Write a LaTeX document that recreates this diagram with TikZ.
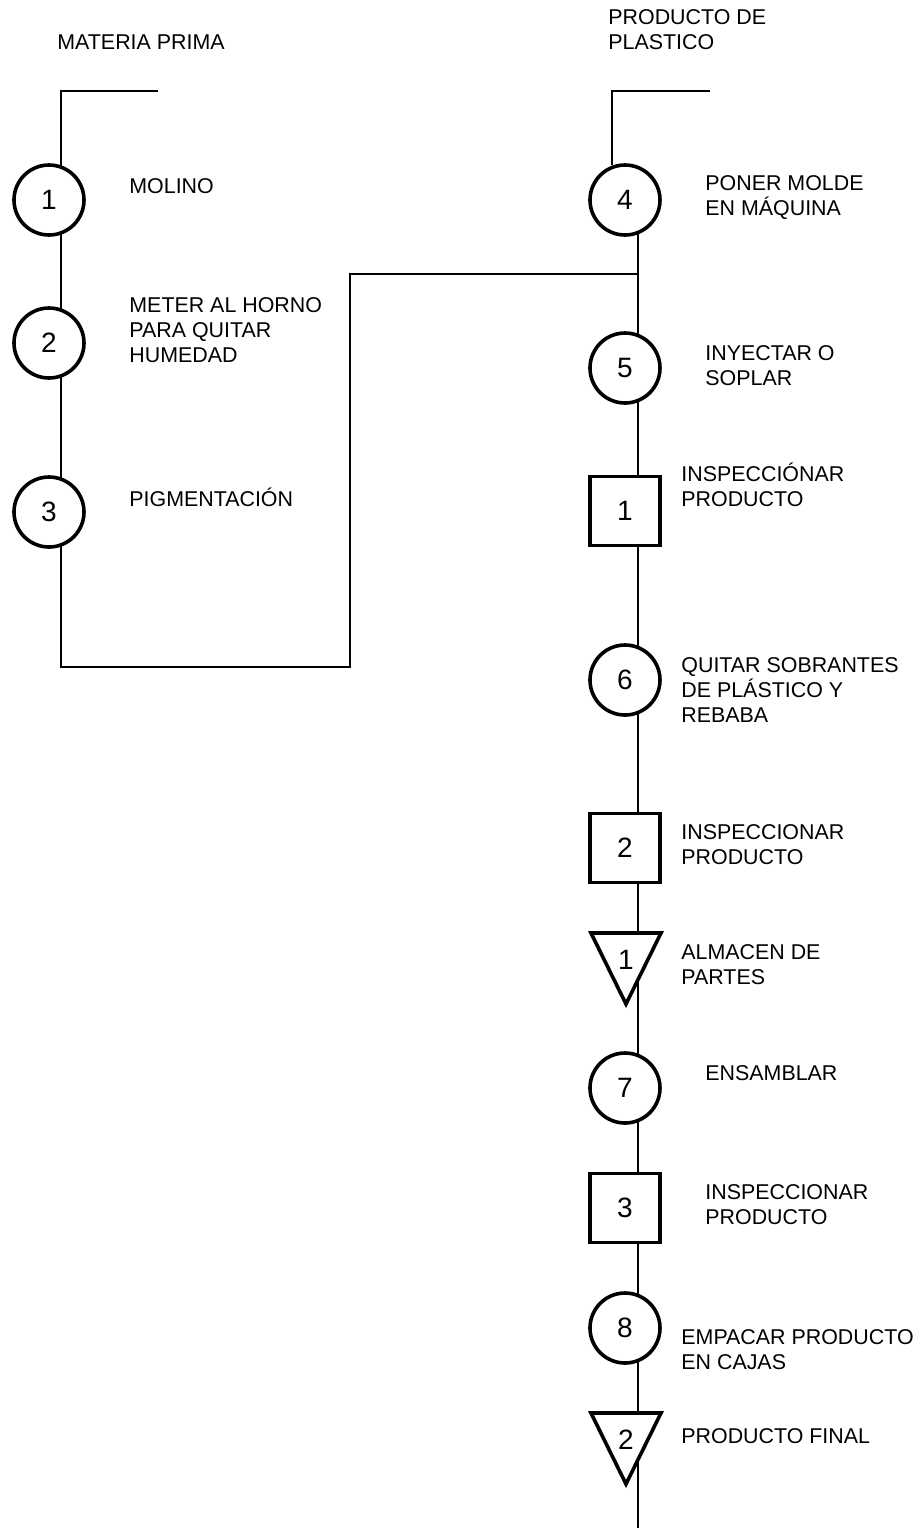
\documentclass[tikz,border=0pt]{standalone}
\usepackage{fontspec}
\setmainfont{Liberation Sans}
\pgfdeclarelayer{back}
\pgfsetlayers{back,main}
\begin{document}
\begin{tikzpicture}[x=0.5pt,y=-0.5pt,
        op/.style={circle,draw,line width=1.8pt,fill=white,minimum size=35pt,
            inner sep=0pt,font=\fontsize{14}{16}\selectfont},
        insp/.style={rectangle,draw,line width=1.8pt,fill=white,minimum width=35pt,
            minimum height=34.5pt,inner sep=0pt,font=\fontsize{14}{16}\selectfont},
        num/.style={inner sep=0pt,font=\fontsize{14}{16}\selectfont},
        txt/.style={anchor=west,align=left,inner sep=0pt,font=\fontsize{10.7}{12.5}\selectfont},
        link/.style={line width=1pt}]

\useasboundingbox (0,0) rectangle (921,1528);
\coordinate (lspine) at (61,0);
\coordinate (rspine) at (638,0);
\coordinate (mpin) at (158,91);
\coordinate (ppin) at (710,91);
\coordinate (lbot) at (61,667);
\coordinate (jtop) at (350,274);
\coordinate (rend) at (638,1528);

\node[txt] (mp) at (57,42) {MATERIA PRIMA};
\node[txt] (pp) at (608,30) {PRODUCTO DE\\PLASTICO};

\node[op] (op1) at (49,200) {1};
\node[op] (op2) at (49,343) {2};
\node[op] (op3) at (49,512) {3};
\node[txt] (op1t) at (129,186) {MOLINO};
\node[txt] (op2t) at (129,330) {METER AL HORNO\\PARA QUITAR\\HUMEDAD};
\node[txt] (op3t) at (129,497) {PIGMENTACIÓN};

\node[op] (op4) at (625,200) {4};
\node[op] (op5) at (625,368) {5};
\node[insp] (in1) at (625,511) {1};
\node[op] (op6) at (625,680) {6};
\node[insp] (in2) at (625,848) {2};
\coordinate (st1) at (626,960);
\draw[line width=1.8pt,fill=white] (st1) ++(-35,-27) -- ++(70,0) -- ++(-35,71) -- cycle;
\node[num] (st1n) at (st1) {1};
\node[op] (op7) at (625,1088) {7};
\node[insp] (in3) at (625,1208) {3};
\node[op] (op8) at (625,1328) {8};
\coordinate (st2) at (626,1440);
\draw[line width=1.8pt,fill=white] (st2) ++(-35,-27) -- ++(70,0) -- ++(-35,71) -- cycle;
\node[num] (st2n) at (st2) {2};

\node[txt] (op4t) at (705,198) {PONER MOLDE\\EN MÁQUINA};
\node[txt] (op5t) at (705,366) {INYECTAR O\\SOPLAR};
\node[txt] (in1t) at (681,485) {INSPECCIÓNAR\\PRODUCTO};
\node[txt] (op6t) at (681,690) {QUITAR SOBRANTES\\DE PLÁSTICO Y\\REBABA};
\node[txt] (in2t) at (681,845) {INSPECCIONAR\\PRODUCTO};
\node[txt] (st1t) at (681,965) {ALMACEN DE\\PARTES};
\node[txt] (op7t) at (705,1073) {ENSAMBLAR};
\node[txt] (in3t) at (705,1205) {INSPECCIONAR\\PRODUCTO};
\node[txt] (op8t) at (681,1350) {EMPACAR PRODUCTO\\EN CAJAS};
\node[txt] (st2t) at (681,1436) {PRODUCTO FINAL};

\begin{pgfonlayer}{back}
\draw[link] (mpin) -| (lbot) -| (jtop) -- (jtop -| rspine);
\draw[link] (ppin) -| (op4.110);
\foreach \a/\b in {op4/op5,op5/in1,in1/op6,op6/in2,in2/st1n,st1n/op7,op7/in3,in3/op8,op8/st2n}
    \draw[link] (\a -| rspine) -- (\b -| rspine);
\draw[link] (st2n -| rspine) -- (rend);
\end{pgfonlayer}
\end{tikzpicture}
\end{document}
